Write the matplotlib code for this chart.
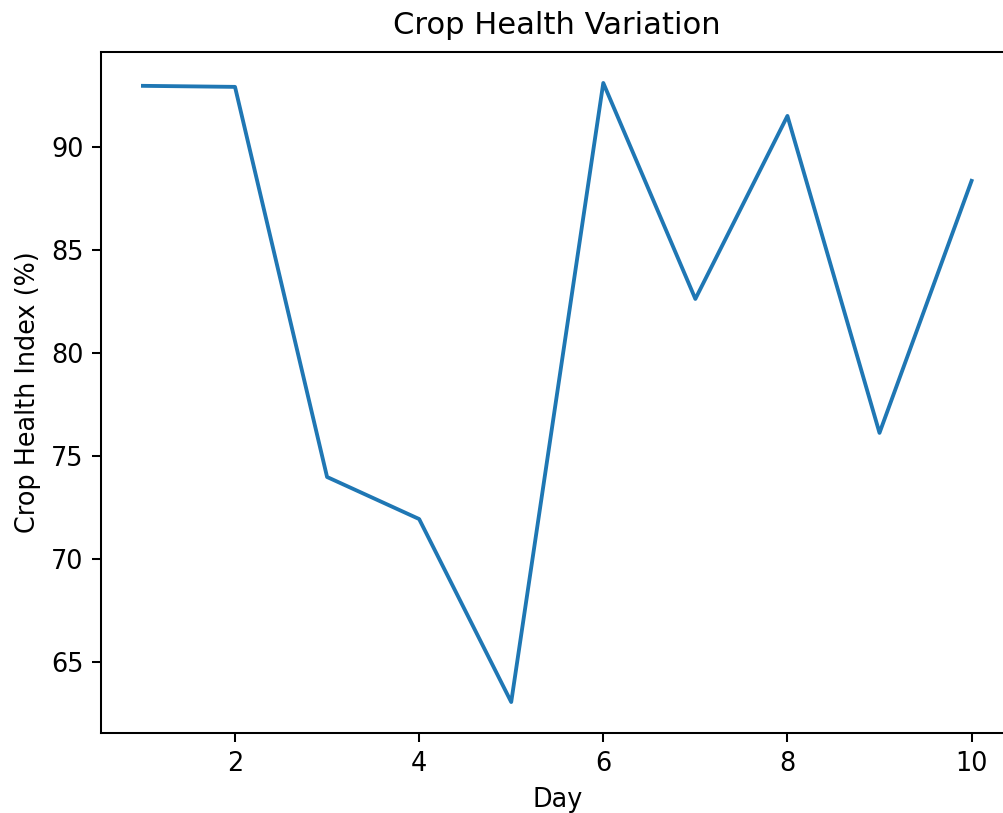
import matplotlib
matplotlib.use("Agg")
import matplotlib.pyplot as plt

days = [1, 2, 3, 4, 5, 6, 7, 8, 9, 10]
health = [92.96, 92.91, 73.98, 71.94, 63.06, 93.1, 82.62, 91.5, 76.12, 88.35]

s = 1.84
fig = plt.figure(figsize=(10.04, 8.13), dpi=100)
ax = fig.add_axes([101.5 / 1004, 80 / 813, 911.5 / 1004, 681 / 813])
ax.plot(days, health, color="#1f77b4", linewidth=1.5 * s)
ax.set_title("Crop Health Variation", fontsize=12 * s, pad=7 * s)
ax.set_xlabel("Day", fontsize=10 * s, labelpad=4 * s)
ax.set_ylabel("Crop Health Index (%)", fontsize=10 * s, labelpad=4 * s)
ax.tick_params(labelsize=10 * s, length=3.5 * s, width=0.8 * s, pad=3.5 * s)
for sp in ax.spines.values():
    sp.set_linewidth(0.8 * s)
ax.spines["right"].set_visible(False)
fig.savefig("out.png", dpi=100)
